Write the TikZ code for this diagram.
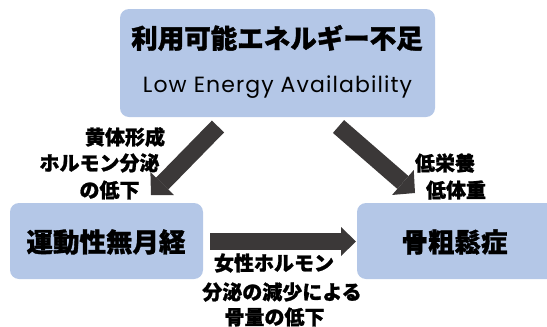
\documentclass[tikz,border=0pt]{standalone}
\usepackage{fontspec}
\newfontfamily\jp{Noto Sans CJK JP}[BoldFeatures={FakeBold=1.2}]
\newfontfamily\lat{Poppins}[LetterSpace=5]
\usetikzlibrary{arrows.meta}
\definecolor{boxblue}{HTML}{B4C7E7}
\definecolor{arrowgray}{HTML}{3B3838}
\begin{document}
\begin{tikzpicture}[x=1pt,y=-1pt,
  box/.style={fill=boxblue, draw=none, rounded corners=9pt, inner sep=0pt},
  ttl/.style={font=\jp\bfseries\fontsize{26.5}{30}\selectfont, inner sep=0pt},
  lbl/.style={font=\jp\bfseries\fontsize{20}{24}\selectfont, inner sep=0pt},
  eng/.style={font=\lat\fontsize{22}{26}\selectfont, inner sep=0pt},
  bigarrow/.style={draw=arrowgray, line width=17pt,
    -{Triangle[length=16pt,width=33pt,line width=0pt]}}
]
\useasboundingbox (0,0) rectangle (547,327);

% boxes
\node[box, minimum width=315pt, minimum height=108pt] (top) at (277.5,63) {};
\node[box, minimum width=193pt, minimum height=76pt] (left) at (106.5,241) {};
\node[box, minimum width=203pt, minimum height=76pt] (right) at (458.5,241) {};

% box texts
\node[ttl] (t1) at (277,38) {利用可能エネルギー不足};
\node[eng, anchor=base] (t2) at (277.5,92) {Low Energy Availability};
\node[ttl] (t3) at (106,242) {運動性無月経};
\node[ttl] (t4) at (454.5,242) {骨粗鬆症};

% arrow ends
\coordinate (a1s) at (218,126.5);
\coordinate (a1e) at (151,195);
\coordinate (a2s) at (338.5,126.5);
\coordinate (a2e) at (415,193);
\coordinate (a3s) at (210,241.5);
\coordinate (a3e) at (356,241.5);

\draw[bigarrow] (a1s) -- (a1e);
\draw[bigarrow] (a2s) -- (a2e);
\draw[draw=arrowgray, line width=17pt,
    -{Triangle[length=15pt,width=29pt,line width=0pt]}] (a3s) -- (a3e);

% labels
\node[lbl] (l1) at (125,137) {黄体形成};
\node[lbl] (l2) at (99.5,163) {ホルモン分泌};
\node[lbl] (l3) at (109.5,190) {の低下};
\node[lbl] (l4) at (445,163) {低栄養};
\node[lbl] (l5) at (456,190) {低体重};
\node[lbl] (l6) at (274,263) {女性ホルモン};
\node[lbl] (l7) at (282,292) {分泌の減少による};
\node[lbl] (l8) at (274.5,317) {骨量の低下};
\end{tikzpicture}
\end{document}
